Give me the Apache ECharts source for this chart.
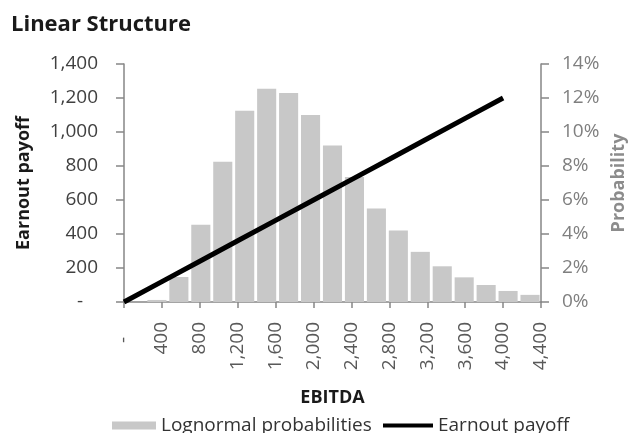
<!DOCTYPE html>
<html>
<head>
<meta charset="utf-8">
<script src="https://cdn.jsdelivr.net/npm/echarts@6/dist/echarts.min.js"></script>
<style>
  html, body { margin: 0; padding: 0; background: #ffffff; }
  #chart { width: 629px; height: 433px; }
</style>
</head>
<body>
<div id="chart"></div>
<script>
// EBITDA bins for the lognormal probability histogram
const probBins = ['b1','b2','b3','b4','b5','b6','b7','b8','b9','b10',
                  'b11','b12','b13','b14','b15','b16','b17','b18','b19'];
// probability per bin, in percent
const probValues = [0.0, 0.12, 1.47, 4.55, 8.25, 11.25, 12.55, 12.3, 11.0, 9.2,
                    7.35, 5.5, 4.2, 2.95, 2.1, 1.45, 1.0, 0.65, 0.42];

// earnout payoff as a function of EBITDA
const payoffEbitda = [0, 400, 800, 1200, 1600, 2000, 2400, 2800, 3200, 3600, 4000];
const payoffValues = [0, 120, 240, 360, 480, 600, 720, 840, 960, 1080, 1200];

// tick labels
const xTickLabels = ['-   ', '400', '800', '1,200', '1,600', '2,000', '2,400',
                     '2,800', '3,200', '3,600', '4,000', '4,400'];
const yLeftTickLabels = ['-   ', '200', '400', '600', '800', '1,000', '1,200', '1,400'];
const yRightTickLabels = ['0%', '2%', '4%', '6%', '8%', '10%', '12%', '14%'];

const FONT = '"Open Sans", "Noto Sans", sans-serif';
const AXIS_GRAY = '#868686';

const chart = echarts.init(document.getElementById('chart'), null, { renderer: 'canvas' });

chart.setOption({
  animation: false,
  backgroundColor: '#ffffff',
  textStyle: { fontFamily: FONT },
  title: {
    text: 'Linear Structure',
    left: 11,
    top: 14,
    padding: 0,
    textStyle: { fontFamily: FONT, fontSize: 22, fontWeight: 'bold', color: '#1a1a1a' }
  },
  legend: [
    {
      data: [{ name: 'Lognormal probabilities', icon: 'rect' }],
      left: 112,
      top: 416,
      padding: 0,
      itemWidth: 44,
      itemHeight: 8,
      itemGap: 0,
      textStyle: { fontFamily: FONT, fontSize: 19, color: '#333333' }
    },
    {
      data: [{ name: 'Earnout payoff', icon: 'rect' }],
      left: 383,
      top: 416,
      padding: 0,
      itemWidth: 50,
      itemHeight: 4,
      itemStyle: { color: '#000000' },
      textStyle: { fontFamily: FONT, fontSize: 19, color: '#333333' }
    }
  ],
  grid: {
    left: 124, right: 88, top: 64, bottom: 131,
    containLabel: false,
    outerBoundsMode: 'none'
  },
  xAxis: [
    {
      type: 'value',
      min: 0,
      max: 4400,
      interval: 400,
      position: 'bottom',
      name: 'EBITDA',
      nameLocation: 'middle',
      nameGap: 87,
      nameTextStyle: { fontFamily: FONT, fontSize: 18, fontWeight: 'bold', color: '#1a1a1a' },
      axisLine: { show: true, lineStyle: { color: AXIS_GRAY, width: 1.5 } },
      axisTick: { show: true, length: 6, lineStyle: { color: AXIS_GRAY, width: 1.5 } },
      splitLine: { show: false },
      axisLabel: {
        rotate: 90,
        margin: 20,
        fontFamily: FONT,
        fontSize: 19,
        color: '#595959',
        formatter: v => xTickLabels[Math.round(v / 400)]
      }
    },
    {
      type: 'category',
      data: probBins,
      position: 'bottom',
      show: false,
      boundaryGap: true
    }
  ],
  yAxis: [
    {
      type: 'value',
      min: 0,
      max: 1400,
      interval: 200,
      position: 'left',
      name: 'Earnout payoff',
      nameLocation: 'middle',
      nameRotate: 90,
      nameGap: 91,
      nameTextStyle: { fontFamily: FONT, fontSize: 18, fontWeight: 'bold', color: '#1a1a1a' },
      axisLine: { show: true, lineStyle: { color: AXIS_GRAY, width: 1.5 } },
      axisTick: { show: true, length: 8, lineStyle: { color: AXIS_GRAY, width: 1.5 } },
      splitLine: { show: false },
      axisLabel: {
        margin: 26,
        fontFamily: FONT,
        fontSize: 19,
        color: '#404040',
        formatter: v => yLeftTickLabels[Math.round(v / 200)]
      }
    },
    {
      type: 'value',
      min: 0,
      max: 14,
      interval: 2,
      position: 'right',
      name: 'Probability',
      nameLocation: 'middle',
      nameRotate: 90,
      nameGap: 69,
      nameTextStyle: { fontFamily: FONT, fontSize: 18, fontWeight: 'bold', color: '#8c8c8c' },
      axisLine: { show: true, lineStyle: { color: AXIS_GRAY, width: 1.5 } },
      axisTick: { show: true, length: 8, lineStyle: { color: AXIS_GRAY, width: 1.5 } },
      splitLine: { show: false },
      axisLabel: {
        margin: 21,
        fontFamily: FONT,
        fontSize: 19,
        color: '#7f7f7f',
        formatter: v => yRightTickLabels[Math.round(v / 2)]
      }
    }
  ],
  series: [
    {
      name: 'Lognormal probabilities',
      type: 'bar',
      xAxisIndex: 1,
      yAxisIndex: 1,
      data: probValues,
      barCategoryGap: '13%',
      itemStyle: { color: '#c8c8c8' },
      z: 1
    },
    {
      name: 'Earnout payoff',
      type: 'line',
      xAxisIndex: 0,
      yAxisIndex: 0,
      data: payoffEbitda.map((x, i) => [x, payoffValues[i]]),
      symbol: 'none',
      lineStyle: { color: '#000000', width: 5 },
      itemStyle: { color: '#000000' },
      z: 3
    }
  ]
});
</script>
</body>
</html>
